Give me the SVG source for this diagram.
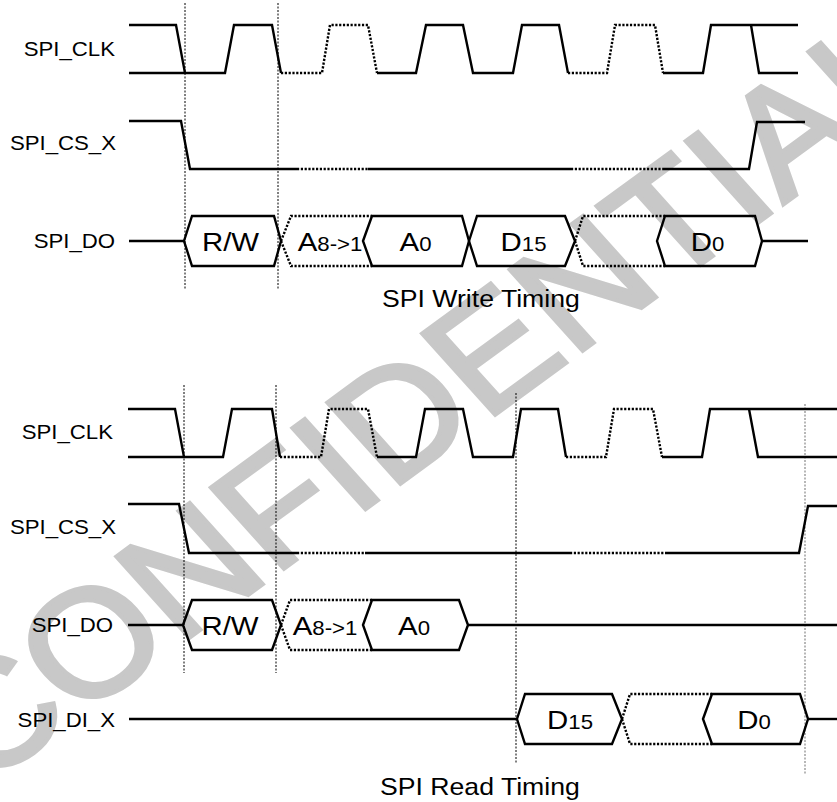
<svg xmlns="http://www.w3.org/2000/svg" width="837" height="802" viewBox="0 0 837 802">
<style>
.s{fill:none;stroke:#000;stroke-width:2.4;stroke-linejoin:miter}
.d{fill:none;stroke:#000;stroke-width:2.4;stroke-dasharray:2.2 1.6}
.g{fill:none;stroke:#000;stroke-width:1;stroke-dasharray:2 1.5}
.gg{fill:none;stroke:#888;stroke-width:1.2;stroke-dasharray:2 1.5}
.lb{font-family:"Liberation Sans",Arial,sans-serif;font-size:20px;fill:#000;text-anchor:end}
.bx{font-family:"Liberation Sans",Arial,sans-serif;font-size:26.5px;fill:#000;text-anchor:middle}
.sm{font-size:20px}
.ti{font-family:"Liberation Sans",Arial,sans-serif;font-size:24px;fill:#000}
.wm{font-family:"Liberation Sans",Arial,sans-serif;font-size:152px;fill:#c8c8c8;stroke:#c8c8c8;stroke-width:4}
</style>
<rect width="837" height="802" fill="#fff"/>
<g id="watermark">
<text class="wm" transform="translate(-18 789) scale(1.11 1) rotate(-39)">CONFIDENTIAL</text>
</g>

<!-- SPI Write Timing -->
<g id="write">
<g id="w_guides">
<line class="g" x1="185" y1="3" x2="185" y2="290"/>
<line class="g" x1="278" y1="3" x2="278" y2="290"/>
</g>
<g id="w_clk">
<text class="lb" transform="translate(115 55.5) scale(1.11 1)">SPI_CLK</text>
<path class="s" d="M129,25 H176 L185,73 M129,73 H225 L234,25 H272 L281,73"/>
<path class="d" d="M281,73 H322 L330,25 H368 L377,73"/>
<path class="s" d="M377,73 H416 L426,25 H463 L473,73 H513 L522,25 H559 L568,73"/>
<path class="d" d="M568,73 H607 L615,25 H655 L663,73"/>
<path class="s" d="M663,73 H703 L711,25 H798 M751,25 L759,73 H798"/>
</g>
<g id="w_cs">
<text class="lb" transform="translate(116 150) scale(1.11 1)">SPI_CS_X</text>
<path class="s" d="M129,121 H181 L190,169 H297"/>
<path class="d" d="M297,169 H368"/>
<path class="s" d="M368,169 H571"/>
<path class="d" d="M571,169 H664"/>
<path class="s" d="M664,169 H749 L757,122 H805"/>
</g>
<g id="w_do">
<text class="lb" transform="translate(115 248) scale(1.11 1)">SPI_DO</text>
<path class="s" d="M129,241 H184"/>
<path class="s" d="M184,241 L192,216 H274 L281,241 L274,266 H192 Z"/>
<text class="bx" transform="translate(230.5 250.5) scale(1.11 1)">R/W</text>
<path class="d" d="M281,241 L291,216 H372 M281,241 L291,266 H372"/>
<text class="bx" transform="translate(330 250.5) scale(1.11 1)">A<tspan class="sm">8-&gt;1</tspan></text>
<path class="s" d="M363,241 L372,216 H462 L469,241 L462,266 H372 Z"/>
<text class="bx" transform="translate(415.5 250.5) scale(1.11 1)">A<tspan class="sm">0</tspan></text>
<path class="s" d="M469,241 L477,216 H565 L575,241 L565,266 H477 Z"/>
<text class="bx" transform="translate(523.5 250.5) scale(1.11 1)">D<tspan class="sm">15</tspan></text>
<path class="d" d="M575,241 L583,216 H665 M575,241 L583,266 H665"/>
<path class="s" d="M657,241 L665,216 H755 L762,241 L755,266 H665 Z"/>
<text class="bx" transform="translate(707.5 250.5) scale(1.11 1)">D<tspan class="sm">0</tspan></text>
<path class="s" d="M762,241 H808"/>
</g>
<text class="ti" transform="translate(382 307) scale(1.11 1)">SPI Write Timing</text>
</g>

<!-- SPI Read Timing -->
<g id="read">
<g id="r_guides">
<line class="g" x1="184" y1="385" x2="184" y2="673"/>
<line class="g" x1="276" y1="385" x2="276" y2="673"/>
<line class="g" x1="516" y1="393" x2="516" y2="763"/>
<line class="gg" x1="805" y1="404" x2="805" y2="775"/>
</g>
<g id="r_clk">
<text class="lb" transform="translate(113 438.5) scale(1.11 1)">SPI_CLK</text>
<path class="s" d="M128,409 H175 L184,457 M128,457 H223 L232,409 H272 L280,457"/>
<path class="d" d="M280,457 H321 L329,409 H368 L377,457"/>
<path class="s" d="M377,457 H416 L425,409 H463 L473,457 H513 L521,409 H558 L566,457"/>
<path class="d" d="M566,457 H606 L614,409 H653 L662,457"/>
<path class="s" d="M662,457 H702 L710,409 H837 M749,409 L758,457 H837"/>
</g>
<g id="r_cs">
<text class="lb" transform="translate(116 534) scale(1.11 1)">SPI_CS_X</text>
<path class="s" d="M128,504 H179 L189,553 H297"/>
<path class="d" d="M297,553 H365"/>
<path class="s" d="M365,553 H570"/>
<path class="d" d="M570,553 H665"/>
<path class="s" d="M665,553 H799 L808,506 H837"/>
</g>
<g id="r_do">
<text class="lb" transform="translate(113 631.5) scale(1.11 1)">SPI_DO</text>
<path class="s" d="M128,625 H183"/>
<path class="s" d="M183,625 L192,600 H272 L281,625 L272,650 H192 Z"/>
<text class="bx" transform="translate(230 635) scale(1.11 1)">R/W</text>
<path class="d" d="M281,625 L290,600 H372 M281,625 L290,650 H372"/>
<text class="bx" transform="translate(325 635) scale(1.11 1)">A<tspan class="sm">8-&gt;1</tspan></text>
<path class="s" d="M363,625 L372,600 H459 L468,625 L459,650 H372 Z"/>
<text class="bx" transform="translate(414 635) scale(1.11 1)">A<tspan class="sm">0</tspan></text>
<path class="s" d="M468,625 H837"/>
</g>
<g id="r_di">
<text class="lb" transform="translate(115 727) scale(1.11 1)">SPI_DI_X</text>
<path class="s" d="M129,719 H517"/>
<path class="s" d="M517,719 L525,694 H612 L622,719 L612,744 H525 Z"/>
<text class="bx" transform="translate(570 728.5) scale(1.11 1)">D<tspan class="sm">15</tspan></text>
<path class="d" d="M622,719 L630,694 H712 M622,719 L630,744 H712"/>
<path class="s" d="M703,719 L712,694 H800 L808,719 L800,744 H712 Z"/>
<text class="bx" transform="translate(754 728.5) scale(1.11 1)">D<tspan class="sm">0</tspan></text>
<path class="s" d="M808,719 H837"/>
</g>
<text class="ti" transform="translate(380 795) scale(1.11 1)">SPI Read Timing</text>
</g>
</svg>
